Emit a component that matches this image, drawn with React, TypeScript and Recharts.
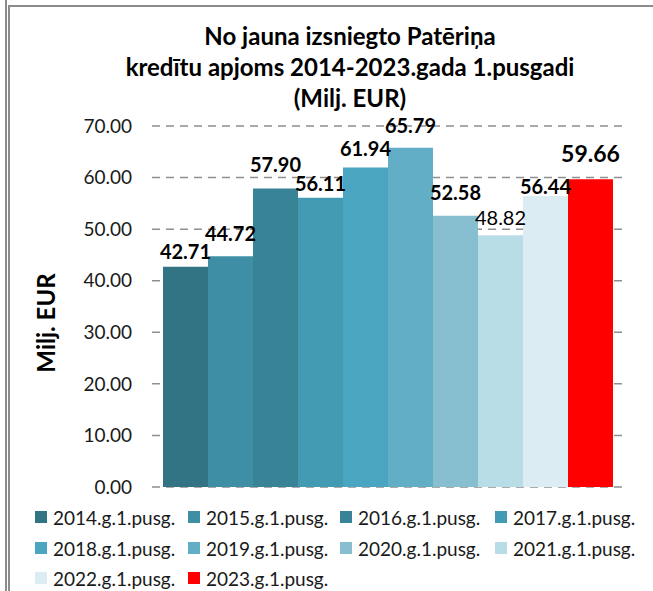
import React from 'react';
import { BarChart, Bar, XAxis, YAxis, CartesianGrid, LabelList } from 'recharts';

const categories = ['1.pusgads'];
const seriesNames = [
  '2014.g.1.pusg.', '2015.g.1.pusg.', '2016.g.1.pusg.', '2017.g.1.pusg.', '2018.g.1.pusg.',
  '2019.g.1.pusg.', '2020.g.1.pusg.', '2021.g.1.pusg.', '2022.g.1.pusg.', '2023.g.1.pusg.',
];
const seriesValues = [42.71, 44.72, 57.9, 56.11, 61.94, 65.79, 52.58, 48.82, 56.44, 59.66];
const yTicks = [0, 10, 20, 30, 40, 50, 60, 70];
const titleLines = ['No jauna izsniegto Patēriņa', 'kredītu apjoms 2014-2023.gada 1.pusgadi', '(Milj. EUR)'];
const yAxisTitle = 'Milj. EUR';

const seriesColors = [
  '#327484', '#3E8FA6', '#388396', '#439AB3', '#49A5C0',
  '#63AEC7', '#88BFD0', '#B8DDE7', '#DBEDF2', '#FF0000',
];
// label styling: distance of label centre above bar top, weight, size
const labelStyles = [
  { dy: 16, bold: true, size: 20 },
  { dy: 23, bold: true, size: 20 },
  { dy: 24, bold: true, size: 20 },
  { dy: 15, bold: true, size: 20 },
  { dy: 20, bold: true, size: 20 },
  { dy: 23, bold: true, size: 20 },
  { dy: 24, bold: true, size: 20 },
  { dy: 18, bold: false, size: 20 },
  { dy: 10, bold: true, size: 20 },
  { dy: 26, bold: true, size: 23 },
];

const data = categories.map((c) => {
  const row: Record<string, any> = { name: c };
  seriesNames.forEach((_, i) => {
    row['s' + i] = seriesValues[i];
  });
  return row;
});

const FONT = 'Lato, "Open Sans", sans-serif';

const makeLabel = (i: number) => (props: any) => {
  const { x, y, width, value } = props;
  const st = labelStyles[i];
  return (
    <text
      x={Number(x) + Number(width) / 2}
      y={Number(y) - st.dy}
      textAnchor="middle"
      dominantBaseline="central"
      fontFamily={FONT}
      fontWeight={st.bold ? 700 : 400}
      fontSize={st.size}
      fill="#000"
    >
      {Number(value).toFixed(2)}
    </text>
  );
};

const YLabel = () => (
  <text
    x={45}
    y={323}
    transform="rotate(-90 45 323)"
    textAnchor="middle"
    dominantBaseline="central"
    fontFamily={FONT}
    fontWeight={700}
    fontSize={24}
    fill="#000"
  >
    {yAxisTitle}
  </text>
);

const legendCols = [35, 188, 340, 495];
const legendRows = [517, 548, 578];

export default function App() {
  return (
    <div style={{ position: 'absolute', left: 0, top: 0, width: 653, height: 591, background: '#fff', fontFamily: FONT, overflow: 'hidden' }}>
      {/* frame lines */}
      <div style={{ position: 'absolute', left: 5, top: 0, width: 2, height: 591, background: '#8c8c8c' }} />
      <div style={{ position: 'absolute', left: 8, top: 5, width: 2, height: 586, background: '#8c8c8c' }} />
      <div style={{ position: 'absolute', left: 8, top: 5, width: 645, height: 2, background: '#8c8c8c' }} />

      {titleLines.map((t, i) => (
        <div
          key={i}
          style={{
            position: 'absolute', left: 0, width: 700, top: 36 + i * 31 - 15, height: 30, lineHeight: '30px',
            textAlign: 'center', fontWeight: 700, fontSize: 24, color: '#000', whiteSpace: 'nowrap',
          }}
        >
          {t}
        </div>
      ))}

      <div style={{ position: 'absolute', left: 0, top: 0 }}>
        <BarChart
          width={653}
          height={591}
          data={data}
          margin={{ top: 126, right: 31, bottom: 104, left: 0 }}
          barCategoryGap={5}
          barGap={0}
        >
          <CartesianGrid vertical={false} stroke="#8f8f8f" strokeWidth={1.5} strokeDasharray="8 6" />
          <XAxis dataKey="name" hide padding={{ left: 6, right: 0 }} />
          <YAxis
            width={152}
            domain={[0, 70]}
            ticks={yTicks}
            interval={0}
            axisLine={false}
            tickLine={false}
            tickSize={0}
            tickMargin={20}
            tickFormatter={(v: number) => v.toFixed(2)}
            tick={{ fontFamily: FONT, fontSize: 19, fill: '#1a1a1a' }}
            label={<YLabel />}
          />
          {seriesNames.map((n, i) => (
            <Bar key={n} dataKey={'s' + i} name={n} fill={seriesColors[i]} isAnimationActive={false}>
              <LabelList dataKey={'s' + i} content={makeLabel(i)} />
            </Bar>
          ))}
        </BarChart>
      </div>

      {seriesNames.map((n, i) => {
        const col = i % 4;
        const row = Math.floor(i / 4);
        return (
          <div
            key={n}
            style={{ position: 'absolute', left: legendCols[col], top: legendRows[row] - 15, height: 30, display: 'flex', alignItems: 'center', whiteSpace: 'nowrap' }}
          >
            <span style={{ display: 'inline-block', width: 12, height: 12, background: seriesColors[i], marginRight: 6 }} />
            <span style={{ fontSize: 19, color: '#1a1a1a' }}>{n}</span>
          </div>
        );
      })}
    </div>
  );
}
